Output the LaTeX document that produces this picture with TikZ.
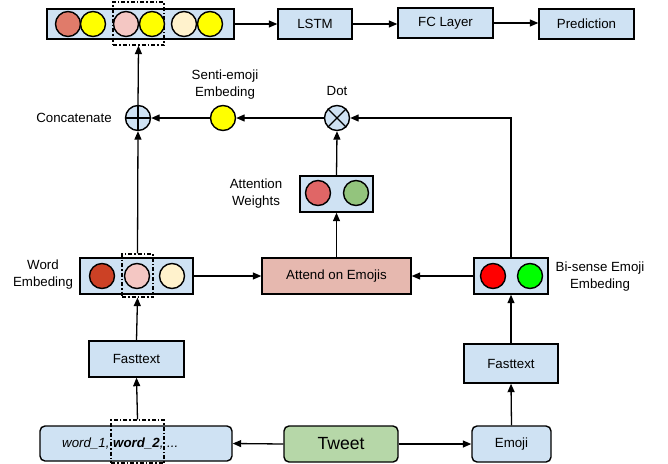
\documentclass[tikz,border=0pt]{standalone}
\usepackage{fontspec}
\setmainfont{Liberation Sans}
\usetikzlibrary{arrows.meta}
\definecolor{boxblue}{HTML}{CFE2F3}
\definecolor{attendc}{HTML}{E6B8AF}
\definecolor{tweetc}{HTML}{B6D7A8}
\definecolor{salmon}{HTML}{E07B6A}
\definecolor{pinkc}{HTML}{F4C7C3}
\definecolor{creamc}{HTML}{FFF2CC}
\definecolor{darkred}{HTML}{CC4125}
\definecolor{attred}{HTML}{E06666}
\definecolor{attgreen}{HTML}{93C47D}
\definecolor{yel}{HTML}{FFFF00}
\begin{document}
\begin{tikzpicture}[x=1pt,y=-1pt,
  every node/.style={font=\fontsize{13.3}{17}\selectfont},
  box/.style={draw, line width=1.4pt, fill=boxblue, inner sep=0pt},
  rbox/.style={box, rounded corners=5pt},
  circ/.style={circle, draw, line width=1.4pt, minimum size=25pt, inner sep=0pt},
  dashbox/.style={draw, line width=1.2pt, dash pattern=on 4pt off 2pt on 1.5pt off 2pt, inner sep=0pt},
  lbl/.style={align=center, inner sep=0pt},
  arr/.style={line width=1.3pt, -{Triangle[length=8.5pt,width=7pt]}},
  ln/.style={line width=1.3pt}]
\useasboundingbox (0,0) rectangle (668,463);

% top row
\node[box, minimum width=187pt, minimum height=30pt] (cat) at (140.5,24) {};
\node[dashbox, minimum width=51pt, minimum height=43pt] (tdash) at (138.5,23.5) {};
\node[circ, fill=salmon] (t1) at (68,24) {};
\node[circ, fill=yel] (t2) at (93,24) {};
\node[circ, fill=pinkc] (t3) at (126,24) {};
\node[circ, fill=yel] (t4) at (152,24) {};
\node[circ, fill=creamc] (t5) at (184,24) {};
\node[circ, fill=yel] (t6) at (210,24) {};
\node[box, minimum width=74pt, minimum height=30pt] (lstm) at (315,24) {LSTM};
\node[box, minimum width=95pt, minimum height=30pt] (fc) at (445.5,23) {FC Layer};
\node[box, minimum width=95pt, minimum height=30pt] (pred) at (586.5,24) {Prediction};

% operations row
\node[circ, fill=boxblue] (conc) at (138,118) {};
\draw[line width=1.2pt] (conc.north) -- (conc.south) (conc.west) -- (conc.east);
\node[lbl] (concl) at (74,118) {Concatenate};
\node[circ, fill=yel] (senti) at (223,118) {};
\node[lbl] (sentil) at (225,85) {Senti-emoji\\Embeding};
\node[circ, fill=boxblue] (dot) at (337,118) {};
\draw[line width=1.2pt] (dot.north west) -- (dot.south east) (dot.north east) -- (dot.south west);
\node[lbl] (dotl) at (337,91) {Dot};

% attention weights
\node[box, minimum width=73pt, minimum height=36pt] (att) at (336.5,194) {};
\node[circ, fill=attred] (a1) at (318,193) {};
\node[circ, fill=attgreen] (a2) at (356,193) {};
\node[lbl] (attl) at (256,194) {Attention\\Weights};

% embedding row
\node[box, minimum width=113pt, minimum height=36pt] (wemb) at (136.5,276) {};
\node[dashbox, minimum width=31pt, minimum height=43pt] (wdash) at (137.5,275.5) {};
\node[circ, fill=darkred] (w1) at (102,276) {};
\node[circ, fill=pinkc] (w2) at (137,276) {};
\node[circ, fill=creamc] (w3) at (172,276) {};
\node[lbl] (wembl) at (43,275) {Word\\Embeding};
\node[box, fill=attendc, minimum width=149pt, minimum height=36pt] (attend) at (336.5,276) {Attend on Emojis};
\node[box, minimum width=74pt, minimum height=36pt] (bis) at (511,276) {};
\node[circ, fill=red] (b1) at (493,276) {};
\node[circ, fill=green] (b2) at (530,276) {};
\node[lbl] (bisl) at (600,277) {Bi-sense Emoji\\Embeding};

% fasttext
\node[box, minimum width=95pt, minimum height=36pt] (fl) at (136.5,359) {Fasttext};
\node[box, minimum width=94pt, minimum height=39pt] (fr) at (511,363.5) {Fasttext};

% bottom row
\node[rbox, minimum width=192pt, minimum height=35pt] (words) at (136,443.5) {};
\node[anchor=west, inner sep=0pt] (wtext) at (62,444) {\itshape word\_1, \bfseries word\_2\mdseries, ...};
\node[dashbox, minimum width=53pt, minimum height=43pt] (bdash) at (137.5,441.5) {};
\node[rbox, fill=tweetc, minimum width=114pt, minimum height=36pt, font=\fontsize{17.6}{20}\selectfont] (tweet) at (341,444) {Tweet};
\node[rbox, minimum width=79pt, minimum height=36pt] (emoji) at (511.5,444) {Emoji};

% connectors
\draw[arr] (tweet.west) -- (words.east);
\draw[arr] (tweet.east) -- (emoji.west);
\draw[arr] (emoji.north) -- (fr.south);
\draw[arr] (fr.north) -- (bis.south);
\draw[arr] (bdash.north) -- (fl.south);
\draw[arr] (fl.north) -- (wdash.south);
\draw[arr] (wdash.north) -- (conc.south);
\draw[arr] (conc.north) -- (tdash.south);
\draw[arr] (wemb.east) -- (attend.west);
\draw[arr] (bis.west) -- (attend.east);
\draw[arr] (attend.north) -- (att.south);
\draw[arr] (att.north) -- (dot.south);
\draw[arr] (bis.north) |- (dot.east);
\draw[arr] (dot.west) -- (senti.east);
\draw[arr] (senti.west) -- (conc.east);
\draw[arr] (cat.east) -- (lstm.west);
\draw[arr] (lstm.east) -- (fc.west |- lstm.east);
\draw[arr] (fc.east) -- (pred.west |- fc.east);
\end{tikzpicture}
\end{document}
